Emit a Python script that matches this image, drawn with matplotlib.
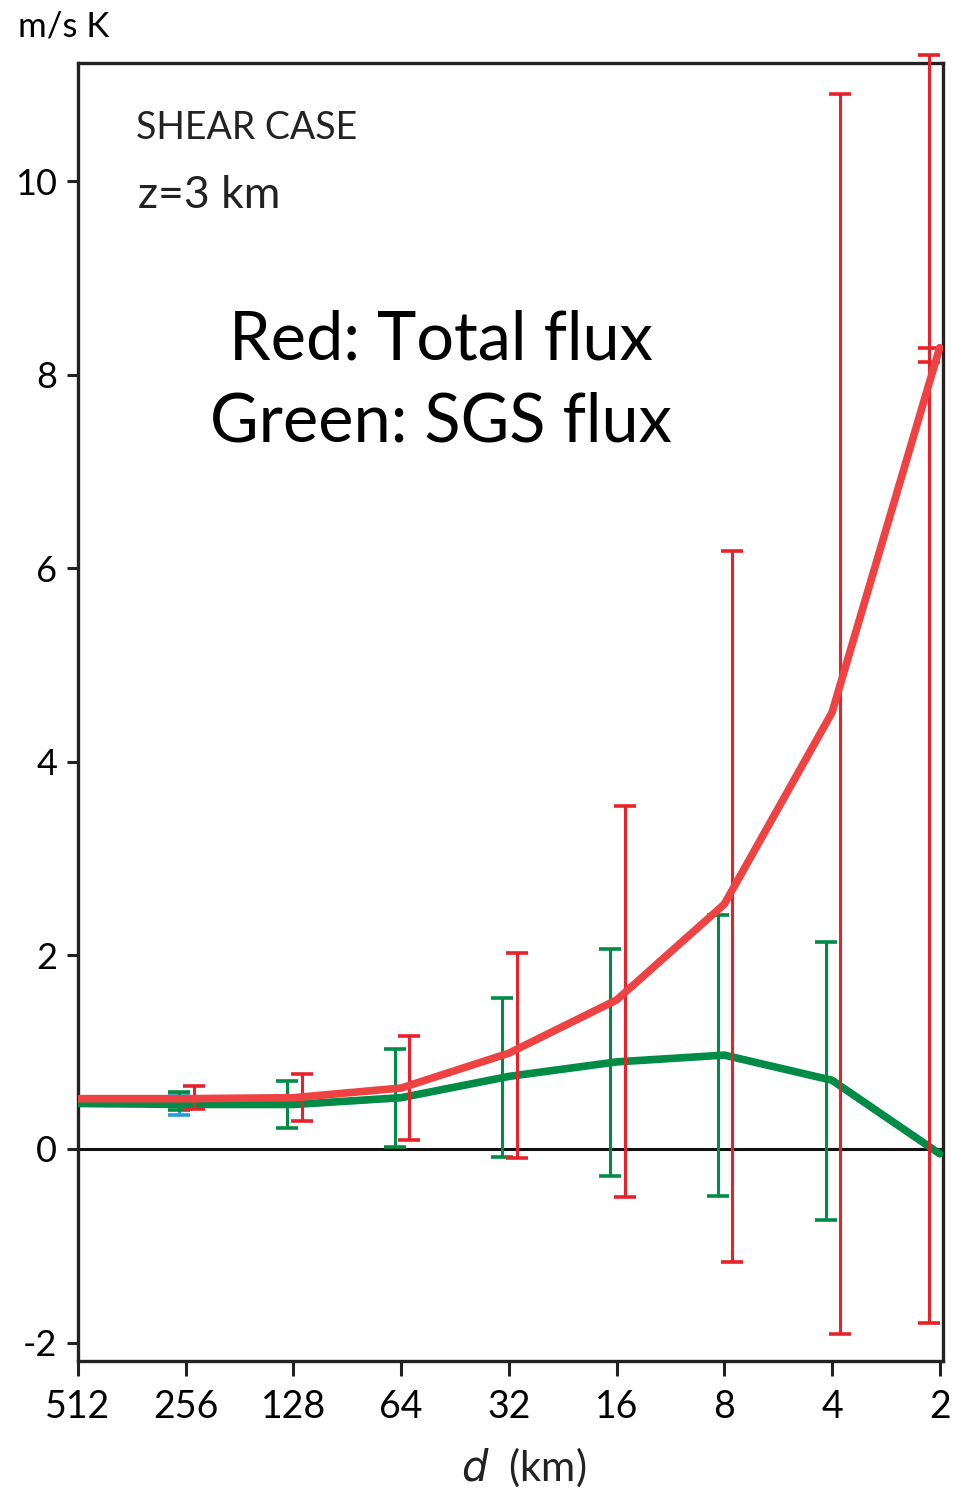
import numpy as np
import matplotlib
matplotlib.use('Agg')
import matplotlib.pyplot as plt

# grid spacing d (km) and flux values (m/s K)
d_km = [512, 256, 128, 64, 32, 16, 8, 4, 2]
total_flux = [0.52, 0.52, 0.53, 0.63, 0.99, 1.54, 2.53, 4.51, 8.28]
sgs_flux = [0.47, 0.46, 0.46, 0.53, 0.75, 0.90, 0.97, 0.71, -0.05]

# error-bar ranges (low, high); None where no bar is drawn
total_lo = [None, 0.41, 0.29, 0.09, -0.09, -0.50, -1.17, -1.91, -1.80]
total_hi = [None, 0.65, 0.77, 1.17, 2.02, 3.54, 6.18, 10.9, 11.3]
sgs_lo = [None, 0.40, 0.22, 0.02, -0.08, -0.28, -0.49, -0.73, None]
sgs_hi = [None, 0.59, 0.70, 1.03, 1.56, 2.07, 2.42, 2.14, None]
# resolved-flux bar only peeks out below the SGS bar at 256 km
res_d = [256]
res_lo = [0.35]
res_hi = [0.58]
# short bar sitting at the end of the total-flux curve
tip_d = [2]
tip_lo = [8.13]
tip_hi = [8.28]

y_ticks = [-2, 0, 2, 4, 6, 8, 10]

RED_LINE = '#EF4343'
RED_BAR = '#E8222B'
GREEN = '#008C47'
BLUE = '#2A9AD8'

plt.rcParams['font.family'] = ['Lato', 'DejaVu Sans']

fig = plt.figure(figsize=(9.55, 14.9), dpi=100)
ax = fig.add_axes([0.0817, 0.0866, 0.9057, 0.8711])

x = np.log2(d_km)


def bars(offset, lo, hi, color, d=None, zorder=2):
    xs = np.log2(d if d is not None else d_km)
    pts = [(xi, l, h) for xi, l, h in zip(xs, lo, hi) if l is not None]
    px = np.array([p[0] for p in pts])
    pl = np.array([p[1] for p in pts])
    ph = np.array([p[2] for p in pts])
    # bars are nudged beside the curve; at the right edge they go left
    px = np.where(px <= 1, px + abs(offset) * 1.3, px + offset)
    mid = (pl + ph) / 2
    ax.errorbar(px, mid, yerr=(ph - pl) / 2, fmt='none', ecolor=color,
                elinewidth=2.2, capsize=8, capthick=2.6, zorder=zorder,
                clip_on=False)


ax.axhline(0, color='#111111', lw=2.2, zorder=1)

bars(0.06, res_lo, res_hi, BLUE, d=res_d, zorder=2)
bars(0.06, sgs_lo, sgs_hi, GREEN, zorder=3)
ax.plot(x, sgs_flux, color=GREEN, lw=5.5, solid_capstyle='round',
        solid_joinstyle='round', zorder=4)
bars(-0.075, total_lo, total_hi, RED_BAR, zorder=5)
bars(-0.075, tip_lo, tip_hi, RED_BAR, d=tip_d, zorder=5)
ax.plot(x, total_flux, color=RED_LINE, lw=5.5, solid_capstyle='round',
        solid_joinstyle='round', zorder=6)

ax.set_xlim(9, 0.97)
ax.set_ylim(-2.19, 11.22)

ax.set_xticks(x)
ax.set_xticklabels([str(v) for v in d_km])
ax.set_yticks(y_ticks)
ax.set_yticklabels([str(v) for v in y_ticks])

ax.tick_params(axis='x', direction='out', length=11, width=2.2,
               labelsize=27, pad=9, color='#222222')
ax.tick_params(axis='y', direction='out', length=8, width=2.2,
               labelsize=26, pad=7, color='#222222')
for s in ax.spines.values():
    s.set_linewidth(2.4)
    s.set_color('#222222')

fig.text(18 / 955, 1 - 26 / 1490, 'm/s K', fontsize=25, va='center', ha='left')
fig.text(136 / 955, 1 - 128 / 1490, 'SHEAR CASE', fontsize=27, va='center',
         ha='left', color='#222222')
fig.text(138 / 955, 1 - 195 / 1490, 'z=3 km', fontsize=32, va='center',
         ha='left', color='#222222')
fig.text(441 / 955, 1 - 340 / 1490, 'Red: Total flux', fontsize=48,
         va='center', ha='center')
fig.text(441 / 955, 1 - 423 / 1490, 'Green: SGS flux', fontsize=48,
         va='center', ha='center')
fig.text(524 / 955, 1 - 1467 / 1490, r'$d$  (km)', fontsize=30, va='center',
         ha='center', color='#222222')

fig.savefig('out.png', dpi=100)
